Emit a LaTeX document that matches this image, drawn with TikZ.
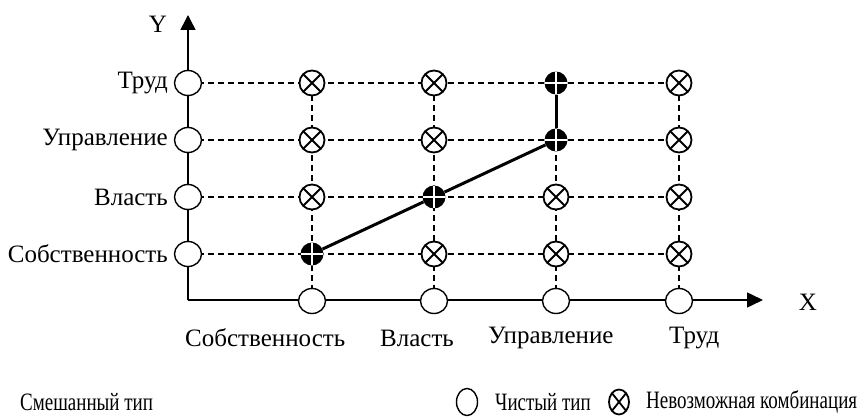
\documentclass[tikz,border=0pt]{standalone}
\usepackage{fontspec}
\setmainfont{Liberation Serif}
\usetikzlibrary{shapes.geometric,arrows.meta}
\newcommand{\squeezed}[1]{\scalebox{0.76}[1]{#1}}
\begin{document}
\begin{tikzpicture}[x=1pt,y=-1pt,
  lbl/.style={inner sep=0pt,font=\fontsize{25}{28}\selectfont},
  leg/.style={inner sep=0pt,font=\fontsize{25}{28}\selectfont},
  pure/.style={ellipse,draw,fill=white,line width=1.4pt,minimum width=27pt,minimum height=25pt,inner sep=0pt},
  xmark/.style={path picture={\draw[line width=1.8pt] (path picture bounding box.north west)--(path picture bounding box.south east)
      (path picture bounding box.north east)--(path picture bounding box.south west);}},
  imposs/.style={circle,draw,fill=white,line width=1.8pt,minimum size=25pt,inner sep=0pt,xmark},
  purelegend/.style={ellipse,draw,fill=white,line width=1.4pt,minimum width=21pt,minimum height=27pt,inner sep=0pt},
  impossleg/.style={ellipse,draw,fill=white,line width=1.8pt,minimum width=20pt,minimum height=25pt,inner sep=0pt,xmark},
  mixed/.style={circle,fill=black,minimum size=23pt,inner sep=0pt,
    path picture={\draw[white,line width=1.8pt] (path picture bounding box.north)--(path picture bounding box.south)
      (path picture bounding box.west)--(path picture bounding box.east);}},
  grid/.style={line width=1.3pt,dash pattern=on 6pt off 4pt},
  axis/.style={line width=1.5pt},
  path/.style={line width=3pt}]
\useasboundingbox (0,0) rectangle (863,417);
% axes
\coordinate (O) at (188,300);
\coordinate (Ytip) at (188,15);
\coordinate (Xtip) at (763,300);
\draw[axis,-{Triangle[length=15pt,width=15pt]}] (O) -- (Ytip);
\draw[axis,-{Triangle[length=16pt,width=15pt]}] (O) -- (Xtip);
\node[lbl] (Ylab) at (158,24) {Y};
\node[lbl] (Xlab) at (808,302) {X};
% grid lines
\foreach \y in {254,197,140,83}{
  \draw[grid] (188,\y) -- (679,\y);
}
\foreach \x in {312,434,556,679}{
  \draw[grid] (\x,301) -- (\x,83);
}
% axis circles
\foreach \r/\y in {1/254,2/197,3/140,4/83}{
  \node[pure] (py\r) at (188,\y) {};
}
\foreach \c/\x in {1/312,2/434,3/556,4/679}{
  \node[pure] (px\c) at (\x,301) {};
}
% grid cells
\node[mixed]  (c11) at (312,254) {};
\node[imposs] (c21) at (434,254) {};
\node[imposs] (c31) at (556,254) {};
\node[imposs] (c41) at (679,254) {};
\node[imposs] (c12) at (312,197) {};
\node[mixed]  (c22) at (434,197) {};
\node[imposs] (c32) at (556,197) {};
\node[imposs] (c42) at (679,197) {};
\node[imposs] (c13) at (312,140) {};
\node[imposs] (c23) at (434,140) {};
\node[mixed]  (c33) at (556,140) {};
\node[imposs] (c43) at (679,140) {};
\node[imposs] (c14) at (312,83) {};
\node[imposs] (c24) at (434,83) {};
\node[mixed]  (c34) at (556,83) {};
\node[imposs] (c44) at (679,83) {};
% path
\draw[path] (c11) -- (c22);
\draw[path] (c22) -- (c33);
\draw[path] (c33) -- (c34);
% y labels
\node[lbl,anchor=east] (ly4) at (168,83) {Труд};
\node[lbl,anchor=east] (ly3) at (168,140) {Управление};
\node[lbl,anchor=east] (ly2) at (168,197) {Власть};
\node[lbl,anchor=east] (ly1) at (168,254) {Собственность};
% x labels
\node[lbl,anchor=west] (lx1) at (185,338) {Собственность};
\node[lbl,anchor=west] (lx2) at (380,338) {Власть};
\node[lbl,anchor=west] (lx3) at (488,338) {Управление};
\node[lbl,anchor=west] (lx4) at (669,338) {Труд};
% legend
\node[leg,anchor=west] (l1) at (20,402) {\squeezed{Смешанный тип}};
\node[purelegend] (lp) at (467,402) {};
\node[leg,anchor=west] (l2) at (495,402) {\squeezed{Чистый тип}};
\node[impossleg] (li) at (619,402) {};
\node[leg,anchor=west] (l3) at (646,402) {\squeezed{Невозможная комбинация}};
\end{tikzpicture}
\end{document}
